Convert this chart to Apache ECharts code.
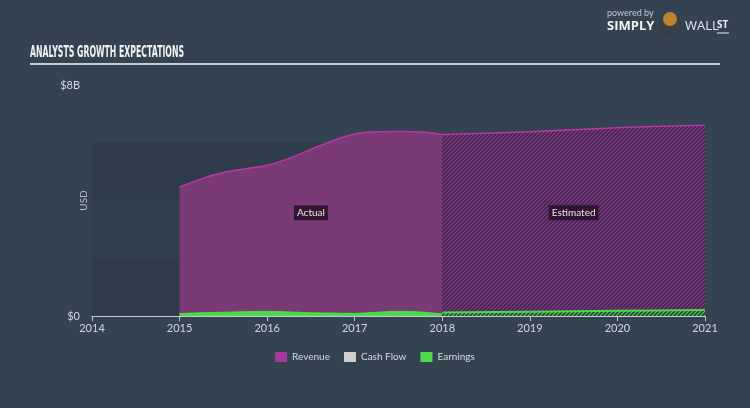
<!DOCTYPE html>
<html><head><meta charset="utf-8">
<script src="https://cdn.jsdelivr.net/npm/echarts@6/dist/echarts.min.js"></script>
<style>html,body{margin:0;padding:0;background:#344351}#c{width:750px;height:408px}</style>
</head><body><div id="c"></div>
<script>
// ---- data ----
const actualYears    = [2015, 2015.25, 2015.5, 2015.75, 2016, 2016.25, 2016.5, 2016.75, 2017, 2017.25, 2017.5, 2017.75, 2018];
const revenueActual  = [4.47, 4.75, 4.97, 5.10, 5.22, 5.46, 5.77, 6.07, 6.30, 6.38, 6.39, 6.37, 6.29];
const earningsActual = [0.09, 0.11, 0.13, 0.15, 0.16, 0.14, 0.11, 0.10, 0.09, 0.13, 0.16, 0.14, 0.07];
const estYears       = [2018, 2019, 2020, 2021];
const revenueEst     = [6.29, 6.38, 6.52, 6.61];
const earningsEst    = [0.12, 0.15, 0.18, 0.21];
const cashFlow       = [];
const legendNames    = ['Revenue', 'Cash Flow', 'Earnings'];
const yTickLabels    = {0: '$0', 8: '$8B'};
const zoneLabels     = ['Actual', 'Estimated'];

function pair(xs, ys){ return xs.map((x,i)=>[x, ys[i]]); }
function hatch(bg, fg){
  const c = document.createElement('canvas'); c.width = c.height = 4;
  const g = c.getContext('2d');
  g.fillStyle = bg; g.fillRect(0,0,4,4);
  g.strokeStyle = fg; g.lineWidth = 1.2;
  g.beginPath();
  g.moveTo(0,4); g.lineTo(4,0);
  g.moveTo(-1,1); g.lineTo(1,-1);
  g.moveTo(3,5); g.lineTo(5,3);
  g.stroke();
  return c;
}
const revHatch = hatch('#37294a', '#983693');
const earnHatch = hatch('#2c3a3f', '#4cd94a');

// title scaling
const titleFont = 'bold 15px "DejaVu Sans"';
const mc = document.createElement('canvas').getContext('2d');
mc.font = titleFont;
const titleText = 'ANALYSTS GROWTH EXPECTATIONS';
const tw = mc.measureText(titleText).width;
const titleScale = 154 / tw;

const chart = echarts.init(document.getElementById('c'));
const zoneLabel = {
  show: true, position: 'inside', color: '#ece4ec', fontSize: 10,
  fontFamily: 'Lato', backgroundColor: 'rgba(38,16,38,0.85)', padding: [3, 3, 2, 3]
};
chart.setOption({
  backgroundColor: '#344351',
  animation: false,
  grid: {left: 92, right: 45, top: 85, bottom: 92},
  legend: {
    top: 347, left: 'center', itemWidth: 12, itemHeight: 10, itemGap: 14,
    icon: 'rect',
    textStyle: {color: '#d5dade', fontSize: 10, fontFamily: 'Lato'},
    data: [
      {name: legendNames[0], itemStyle: {color: '#a8389a'}},
      {name: legendNames[1], itemStyle: {color: '#cfcfcf'}},
      {name: legendNames[2], itemStyle: {color: '#4cd94a'}}
    ]
  },
  xAxis: {
    type: 'value', min: 2014, max: 2021, interval: 1,
    axisLine: {lineStyle: {color: '#c3cad1', width: 1}},
    axisTick: {show: true, length: 5, lineStyle: {color: '#c3cad1'}},
    axisLabel: {color: '#d3d8dc', fontSize: 11, margin: 7, fontFamily: 'Lato', formatter: v => String(v)},
    splitLine: {show: false}
  },
  yAxis: {
    type: 'value', min: 0, max: 8, interval: 2,
    name: 'USD', nameLocation: 'middle', nameRotate: 90, nameGap: 3, nameMoveOverlap: false,
    nameTextStyle: {color: '#b9c1c8', fontSize: 10, fontFamily: 'Lato'},
    axisLine: {show: false}, axisTick: {show: false},
    axisLabel: {color: '#d3d8dc', fontSize: 11, margin: 12, fontFamily: 'Lato',
      formatter: v => yTickLabels[v] !== undefined ? yTickLabels[v] : ''},
    splitLine: {show: false},
    splitArea: {show: true, areaStyle: {color: ['rgba(0,0,0,0.09)', 'rgba(0,0,0,0.04)', 'rgba(0,0,0,0.09)', 'rgba(0,0,0,0)']}}
  },
  series: [
    {
      name: 'Revenue', type: 'line', data: pair(actualYears, revenueActual),
      smooth: 0.35, symbol: 'none', z: 2,
      lineStyle: {color: '#b8399f', width: 1.5},
      itemStyle: {color: '#a8389a'},
      areaStyle: {color: '#7a3a76', opacity: 1},
      markArea: {silent: true, z: 20, itemStyle: {color: 'rgba(0,0,0,0)'}, label: zoneLabel,
        data: [[{xAxis: 2015, yAxis: 0, name: zoneLabels[0]}, {xAxis: 2018, yAxis: 7.15}]]}
    },
    {
      name: 'Revenue', type: 'line', data: pair(estYears, revenueEst),
      smooth: 0.35, symbol: 'none', z: 2,
      lineStyle: {color: '#b8399f', width: 1.5},
      itemStyle: {color: '#a8389a'},
      areaStyle: {color: {image: revHatch, repeat: 'repeat'}, opacity: 1},
      markArea: {silent: true, z: 20, itemStyle: {color: 'rgba(0,0,0,0)'}, label: zoneLabel,
        data: [[{xAxis: 2018, yAxis: 0, name: zoneLabels[1]}, {xAxis: 2021, yAxis: 7.15}]]}
    },
    {
      name: 'Cash Flow', type: 'line', data: cashFlow, symbol: 'none',
      itemStyle: {color: '#cfcfcf'}, lineStyle: {color: '#cfcfcf'}
    },
    {
      name: 'Earnings', type: 'line', data: pair(actualYears, earningsActual),
      smooth: 0.35, symbol: 'none', z: 3,
      lineStyle: {color: '#4cd94a', width: 1},
      itemStyle: {color: '#4cd94a'},
      areaStyle: {color: '#4cd94a', opacity: 1}
    },
    {
      name: 'Earnings', type: 'line', data: pair(estYears, earningsEst),
      smooth: 0.35, symbol: 'none', z: 3,
      lineStyle: {color: '#4cd94a', width: 2},
      itemStyle: {color: '#4cd94a'},
      areaStyle: {color: {image: earnHatch, repeat: 'repeat'}, opacity: 1}
    }
  ],
  graphic: [
    {type: 'text', x: 30, y: 46, scaleX: titleScale,
      style: {text: titleText, fill: '#f2f4f6', font: titleFont}},
    {type: 'line', shape: {x1: 30, y1: 64, x2: 720, y2: 64}, style: {stroke: '#c5ccd3', lineWidth: 2}},
    {type: 'text', left: 607, top: 9, style: {text: 'powered by', fill: '#c3cad1', font: '9px Lato'}},
    {type: 'text', left: 607, top: 20, style: {text: 'SIMPLY', fill: '#f4f6f8', font: 'bold 13px "Open Sans"'}},
    {type: 'circle', shape: {cx: 670, cy: 26, r: 11}, style: {fill: '#3a3f45'}},
    {type: 'circle', shape: {cx: 670, cy: 19, r: 7}, style: {fill: '#b9832f'}},
    {type: 'text', left: 685, top: 20, style: {text: 'WALL', fill: '#e6eaee', font: '13px "Open Sans"'}},
    {type: 'text', left: 717, top: 20, style: {text: 'ST', fill: '#e6eaee', font: 'bold 10px "Open Sans"'}},
    {type: 'line', shape: {x1: 717, y1: 33, x2: 729, y2: 33}, style: {stroke: '#e6eaee', lineWidth: 1}}
  ]
});
</script></body></html>
